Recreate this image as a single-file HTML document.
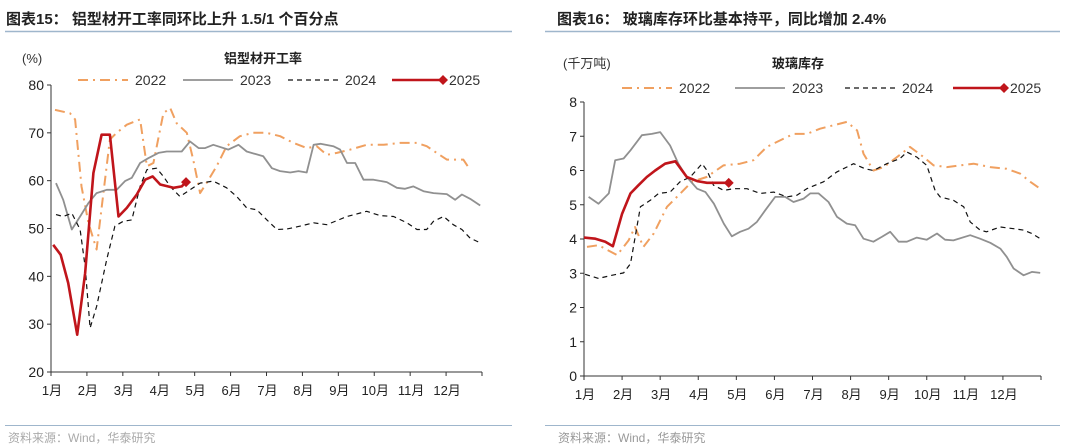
<!DOCTYPE html>
<html><head><meta charset="utf-8">
<style>
body{margin:0;width:1080px;height:448px;background:#fff;overflow:hidden;font-family:"Liberation Sans","Noto Sans CJK SC",sans-serif;}
svg{position:absolute;left:0;top:0}
</style></head>
<body>
<svg id="c" width="1080" height="448">
  <text x="6" y="24" font-size="15" font-weight="bold" fill="#222">图表15：  铝型材开工率同环比上升 1.5/1 个百分点</text>
  <line x1="5" y1="31.5" x2="512" y2="31.5" stroke="#9fb6cc" stroke-width="1.5"/>
  <text x="557" y="24" font-size="15" font-weight="bold" fill="#222">图表16：  玻璃库存环比基本持平，同比增加 2.4%</text>
  <line x1="545" y1="31.5" x2="1060" y2="31.5" stroke="#9fb6cc" stroke-width="1.5"/>
  <line x1="5" y1="425.5" x2="512" y2="425.5" stroke="#9fb6cc" stroke-width="1"/>
  <line x1="545" y1="425.5" x2="1060" y2="425.5" stroke="#9fb6cc" stroke-width="1"/>
  <text x="8" y="442" font-size="12" fill="#aaa">资料来源：Wind，华泰研究</text>
  <text x="558" y="442" font-size="12" fill="#999">资料来源：Wind，华泰研究</text>
</svg>
<script>
// ---- Left chart data (x in months from Jan start, y in %) ----
const months = ['1月','2月','3月','4月','5月','6月','7月','8月','9月','10月','11月','12月'];
const leftTicks = [20,30,40,50,60,70,80];
const L22x=[0.11,0.53,0.67,0.85,1.04,1.27,1.46,1.64,1.83,2.11,2.48,2.67,2.85,3.13,3.32,3.5,3.78,3.96,4.15,4.33,4.61,4.89,5.26,5.63,6.0,6.38,6.75,7.13,7.4,7.68,7.96,8.33,8.79,9.26,9.72,10.19,10.46,10.74,11.02,11.48,11.67];
const L22y=[74.8,74.1,72.8,58.8,51.2,45.6,57.4,68.6,70,71.7,72.8,63,63.7,74.1,75.2,72,70,64.4,57.4,59.5,63,67.2,69.3,70,70,69.3,67.9,66.8,67.2,65.4,65.8,66.5,67.5,67.5,67.9,67.9,67.2,65.8,64.4,64.4,62.3];
const L23x=[0.14,0.34,0.58,0.81,1.04,1.27,1.55,1.83,2.06,2.25,2.48,2.71,2.99,3.22,3.64,3.87,4.11,4.29,4.52,4.94,5.22,5.45,5.91,6.15,6.38,6.66,6.89,7.12,7.31,7.5,7.86,8.05,8.24,8.47,8.7,8.98,9.35,9.63,9.86,10.09,10.37,10.65,11.02,11.25,11.44,11.67,11.95];
const L23y=[59.5,56,49.8,52.5,55.3,57.4,58.1,58.1,59.9,60.6,63.7,64.7,65.8,66.1,66.1,68.2,66.8,66.8,67.5,66.5,67.5,66.1,65.1,62.6,62,61.7,62,61.7,67.5,67.7,67.2,66.5,63.7,63.7,60.2,60.2,59.7,58.5,58.3,58.8,57.8,57.4,57.2,56,57.1,56.2,54.8];
const L24x=[0.14,0.34,0.58,0.81,0.95,1.09,1.27,1.55,1.78,2.01,2.25,2.48,2.67,2.94,3.13,3.32,3.59,3.87,4.15,4.52,4.89,5.17,5.45,5.73,6.01,6.29,6.57,6.94,7.31,7.68,8.24,8.79,9.16,9.54,9.91,10.19,10.46,10.65,10.93,11.2,11.44,11.67,11.95];
const L24y=[52.9,52.5,53.2,49.8,42.1,29.2,33.7,43.5,50.5,51.5,51.8,58.8,62.3,62.6,60.9,58.8,56.7,58.1,59.5,59.9,58.5,56.7,54.3,53.9,51.8,49.8,49.9,50.5,51.2,50.8,52.5,53.6,52.7,52.5,51.2,49.8,49.8,51.5,52.5,50.8,49.8,48,47];
const L25x=[0.06,0.27,0.48,0.73,0.95,1.18,1.41,1.64,1.88,2.11,2.39,2.62,2.83,3.04,3.41,3.64,3.76];
const L25y=[46.6,44.5,38.6,27.8,40.6,61.6,69.6,69.6,52.5,54.3,57.1,60.2,60.9,59.2,58.5,58.8,59.7];
// ---- Right chart data (千万吨) ----
const rightTicks = [0,1,2,3,4,5,6,7,8];
const R22x=[0.08,0.38,0.87,1.17,1.34,1.56,1.83,2.18,2.53,2.83,3.22,3.66,4.1,4.45,4.8,5.15,5.5,5.85,6.2,6.55,6.9,7.17,7.34,7.6,7.87,8.22,8.56,8.92,9.18,9.53,9.88,10.23,10.67,11.1,11.45,11.72,11.98];
const R22y=[3.77,3.82,3.53,3.96,4.35,3.77,4.16,4.94,5.33,5.67,5.81,6.15,6.2,6.3,6.69,6.88,7.07,7.07,7.22,7.32,7.42,7.17,6.49,6.0,6.1,6.39,6.69,6.39,6.15,6.1,6.15,6.2,6.1,6.05,5.91,5.67,5.47];
const R23x=[0.12,0.38,0.65,0.82,1.04,1.22,1.52,1.78,2.0,2.26,2.48,2.7,2.97,3.19,3.41,3.67,3.88,4.1,4.32,4.54,4.76,5.02,5.28,5.5,5.77,5.94,6.16,6.42,6.64,6.9,7.12,7.34,7.6,7.82,8.04,8.26,8.48,8.74,9.0,9.27,9.48,9.7,10.14,10.4,10.67,10.93,11.1,11.28,11.54,11.76,11.98];
const R23y=[5.23,5.03,5.33,6.3,6.35,6.59,7.03,7.07,7.12,6.73,6.2,5.81,5.47,5.37,5.03,4.45,4.08,4.21,4.3,4.5,4.84,5.23,5.23,5.08,5.18,5.33,5.33,5.08,4.65,4.45,4.4,4.01,3.92,4.06,4.21,3.92,3.92,4.04,3.98,4.16,3.98,3.96,4.11,4.01,3.89,3.72,3.48,3.14,2.94,3.04,3.01];
const R24x=[0.03,0.38,0.73,1.04,1.22,1.48,1.74,1.96,2.26,2.52,2.79,3.1,3.23,3.4,3.67,3.93,4.28,4.63,4.98,5.33,5.59,5.85,6.29,6.64,7.08,7.38,7.6,7.95,8.3,8.48,8.74,9.0,9.22,9.35,9.7,9.97,10.14,10.4,10.57,10.93,11.28,11.54,11.76,11.98];
const R24y=[2.97,2.85,2.94,3.01,3.28,4.94,5.13,5.33,5.37,5.67,5.81,6.2,6.0,5.57,5.42,5.47,5.47,5.33,5.37,5.23,5.28,5.47,5.67,5.96,6.2,6.05,6.0,6.2,6.35,6.54,6.39,6.15,5.42,5.23,5.13,4.94,4.5,4.26,4.21,4.35,4.3,4.26,4.16,4.01];
const R25x=[0,0.3,0.56,0.76,1.0,1.22,1.43,1.65,1.87,2.13,2.4,2.7,2.97,3.23,3.49,3.8];
const R25y=[4.04,4.01,3.92,3.79,4.74,5.33,5.57,5.81,6.0,6.2,6.27,5.81,5.69,5.64,5.64,5.64];

const svg=document.getElementById('c');
const NS='http://www.w3.org/2000/svg';
function mk(tag,attrs){const e=document.createElementNS(NS,tag);for(const k in attrs)e.setAttribute(k,attrs[k]);svg.appendChild(e);return e;}

const styles={
 s22:{stroke:'#f0a060',width:2,dash:'10,5,2,5'},
 s23:{stroke:'#909090',width:1.8,dash:''},
 s24:{stroke:'#111',width:1.2,dash:'5,4'},
 s25:{stroke:'#c0151b',width:2.6,dash:''}
};

function chart(p){
  const X=m=>p.x0+(p.x1-p.x0)*m/12;
  const Y=v=>p.y1-(p.y1-p.y0)*(v-p.vmin)/(p.vmax-p.vmin);
  // axes
  let a=mk('line',{x1:p.x0,y1:p.y0,x2:p.x0,y2:p.y1,stroke:'#333','stroke-width':1});
  
  
  a=mk('line',{x1:p.x0,y1:p.y1,x2:p.x1,y2:p.y1,stroke:'#333','stroke-width':1});
  
  
  p.ticks.forEach(t=>{
    const tk=mk('line',{x1:p.x0-4,y1:Y(t),x2:p.x0,y2:Y(t),stroke:'#333'});
    
    
    const tx=mk('text',{x:p.x0-7,y:Y(t)+5,'text-anchor':'end','font-size':14,fill:'#222'});
    tx.textContent=t;
    
    
  });
  for(let i=0;i<=12;i++){
    const tk=mk('line',{x1:X(i),y1:p.y1,x2:X(i),y2:p.y1+4,stroke:'#333'});
    
    
  }
  months.forEach((m,i)=>{
    const tx=mk('text',{x:X(i)+1,y:p.y1+23,'text-anchor':'middle','font-size':13,fill:'#222'});
    tx.textContent=m;
    
    
  });
  // series
  p.series.forEach(s=>{
    const st=styles[s.k];
    const d=s.x.map((m,i)=>(i?'L':'M')+X(m).toFixed(1)+','+Y(s.y[i]).toFixed(1)).join(' ');
    const pa=mk('path',{d:d,fill:'none',stroke:st.stroke,'stroke-width':st.width,'stroke-dasharray':st.dash,'stroke-linejoin':'round'});
    
    
    if(s.k==='s25'){
      const n=s.x.length-1,cx=X(s.x[n]),cy=Y(s.y[n]);
      const dm=mk('polygon',{points:`${cx},${cy-5} ${cx+5},${cy} ${cx},${cy+5} ${cx-5},${cy}`,fill:'#c0151b'});
      
      
    }
  });
  // legend
  const names=['2022','2023','2024','2025'],keys=['s22','s23','s24','s25'];
  keys.forEach((k,i)=>{
    const lx=p.legX[i],st=styles[k];
    const ln=mk('line',{x1:lx,y1:p.legY,x2:lx+50,y2:p.legY,stroke:st.stroke,'stroke-width':st.width,'stroke-dasharray':st.dash});
    
    
    if(k==='s25'){
      const dm=mk('polygon',{points:`${lx+51},${p.legY-5} ${lx+56},${p.legY} ${lx+51},${p.legY+5} ${lx+46},${p.legY}`,fill:'#c0151b'});
      
      
    }
    const tx=mk('text',{x:lx+(k==='s25'?57:57),y:p.legY+5,'font-size':14,fill:'#333'});
    tx.textContent=names[i];
    
    
  });
  let t=mk('text',{x:p.unitX,y:p.unitY,'font-size':13,fill:'#333'});
  t.textContent=p.unit;
  
  
  t=mk('text',{x:p.titleX,y:p.unitY,'font-size':13,'font-weight':'bold','text-anchor':'middle',fill:'#222'});
  t.textContent=p.title;
  
  
}

chart({id:'left',x0:51,x1:482,y0:85,y1:372,vmin:20,vmax:80,ticks:leftTicks,
  legX:[78,183,288,392],legY:80,unit:'(%)',unitX:22,unitY:63,title:'铝型材开工率',titleX:263,
  series:[{k:'s22',name:'2022',x:L22x,y:L22y},{k:'s23',name:'2023',x:L23x,y:L23y},{k:'s24',name:'2024',x:L24x,y:L24y},{k:'s25',name:'2025',x:L25x,y:L25y}]});
chart({id:'right',x0:584,x1:1041,y0:102,y1:376,vmin:0,vmax:8,ticks:rightTicks,
  legX:[622,735,845,953],legY:88,unit:'(千万吨)',unitX:563,unitY:68,title:'玻璃库存',titleX:798,
  series:[{k:'s22',name:'2022',x:R22x,y:R22y},{k:'s23',name:'2023',x:R23x,y:R23y},{k:'s24',name:'2024',x:R24x,y:R24y},{k:'s25',name:'2025',x:R25x,y:R25y}]});
</script>
</body></html>
